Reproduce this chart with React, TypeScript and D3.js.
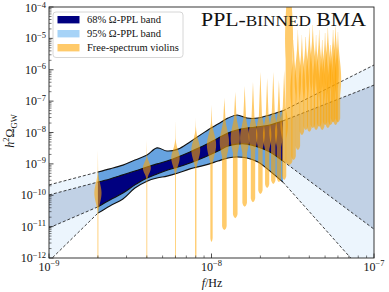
import React from "react";
import * as d3 from "d3";

const WIDTH = 389;
const HEIGHT = 292;
const M = { left: 49, right: 374, top: 7, bottom: 258 };
const FONT = "'Liberation Serif', 'Times New Roman', serif";

// PPL band edges (frequency in Hz, values are log10 h^2 Omega_GW)
const bandFreq = [2.0e-9, 2.37e-9, 2.85e-9, 3.38e-9, 4.01e-9, 4.62e-9, 5.32e-9, 6.22e-9, 7.37e-9, 9.12e-9, 1.096e-8, 1.263e-8, 1.435e-8, 1.654e-8, 1.932e-8, 2.29e-8, 2.75e-8];
const band95Upper = [-9.26, -9.16, -9.04, -8.88, -8.72, -8.49, -8.59, -8.53, -8.30, -7.98, -7.73, -7.54, -7.44, -7.54, -7.54, -7.44, -7.31];
const band68Upper = [-9.58, -9.48, -9.35, -9.23, -9.10, -9.00, -8.91, -8.78, -8.62, -8.40, -8.18, -8.02, -7.92, -7.86, -7.82, -7.76, -7.63];
const band68Lower = [-10.37, -10.15, -9.93, -9.67, -9.45, -9.32, -9.20, -9.10, -8.97, -8.78, -8.59, -8.43, -8.37, -8.37, -8.46, -8.62, -8.91];
const band95Lower = [-10.57, -10.34, -10.12, -9.77, -9.55, -9.45, -9.39, -9.29, -9.16, -9.04, -8.91, -8.81, -8.78, -8.81, -8.94, -9.23, -9.58];

// Power-law extrapolation end values at the plot edges
const extFreq = [1e-9, 1e-7];
const ext95Upper = [-9.67, -5.85];
const ext68Upper = [-9.99, -6.49];
const ext68Lower = [-11.04, -11.08];
const ext95Lower = [-12.1, -12.83];

// Free-spectrum violins
const violinFreq = [2.0e-9, 4.0e-9, 6.0e-9, 8.0e-9, 1.0e-8, 1.2e-8, 1.4e-8, 1.6e-8, 1.8e-8, 2.0e-8, 2.2e-8, 2.4e-8, 2.6e-8, 2.8e-8, 3.0e-8, 3.2e-8, 3.4e-8, 3.6e-8, 3.8e-8, 4.0e-8, 4.2e-8, 4.4e-8, 4.6e-8, 4.8e-8, 5.0e-8, 5.2e-8, 5.4e-8, 5.6e-8, 5.8e-8, 6.0e-8];
const violinPeak = [-9.93, -9.13, -8.81, -8.56, -8.4, -8.3, -8.18, -8.18, -8.11, -8.05, -8.08, -7.98, -8.02, -7.76, -5.0, -6.65, -6.33, -6.49, -6.4, -6.2, -6.1, -6.4, -6.25, -6.5, -6.3, -6.15, -6.6, -6.2, -6.1, -6.3];
const violinHigh = [-8.56, -8.24, -7.6, -7.54, -7.12, -6.9, -6.71, -6.52, -6.39, -6.07, -6.26, -6.07, -6.33, -6.01, -2.5, -5.05, -4.73, -4.89, -4.96, -4.67, -4.57, -4.89, -4.73, -5.05, -4.83, -4.67, -5.21, -4.73, -4.61, -4.8];
const violinLow = [-12.3, -12.3, -12.3, -12.0, -11.49, -11.11, -10.73, -10.37, -10.22, -9.96, -9.77, -9.64, -9.58, -9.51, -9.04, -8.88, -8.56, -8.08, -7.92, -7.98, -7.86, -7.92, -7.82, -7.92, -7.76, -7.86, -7.76, -7.67, -7.76, -7.67];
const violinDensity = [0.9, 1.0, 1.05, 1.1, 1.15, 1.15, 1.15, 1.15, 1.1, 1.1, 1.05, 1.0, 1.0, 0.95, 1.0, 0.8, 0.8, 0.8, 0.8, 0.8, 0.8, 0.8, 0.8, 0.8, 0.8, 0.8, 0.8, 0.8, 0.8, 0.8];
const violinSpread = [0.3, 0.17, 0.25, 0.3, 0.35, 0.4, 0.4, 0.4, 0.4, 0.4, 0.4, 0.4, 0.4, 0.4, 1.2, 0.6, 0.6, 0.6, 0.6, 0.6, 0.6, 0.6, 0.6, 0.6, 0.6, 0.6, 0.6, 0.6, 0.6, 0.6];
const violinTail = [0.12, 0.1, 0.1, 0.15, 0.25, 0.5, 0.5, 0.5, 0.5, 0.5, 0.5, 0.55, 0.55, 0.55, 0.85, 0.7, 0.7, 0.7, 0.7, 0.7, 0.7, 0.7, 0.7, 0.7, 0.7, 0.7, 0.7, 0.7, 0.7, 0.7];

const xTickExps = [-9, -8, -7];
const yTickExps = [-12, -11, -10, -9, -8, -7, -6, -5, -4];

const legendLabels = ["68% \u03A9-PPL band", "95% \u03A9-PPL band", "Free-spectrum violins"];

const C = {
  ext95: "#ecf5fd",
  ext68: "#c1d1e5",
  band95: "#67a3e0",
  band68: "#000080",
  violin: "#ffa500",
  leg95: "#a6d3f7",
  legViolin: "#ffca6a",
};

export default function App() {
  const x = d3.scaleLog().domain([1e-9, 1e-7]).range([M.left, M.right]);
  const y = d3.scaleLinear().domain([-12, -4]).range([M.bottom, M.top]);
  const halfW = d3.scaleLinear().domain([0, 1]).range([0, 4]);

  const n = bandFreq.length;
  const bandArea = (lo: number[], hi: number[]) =>
    d3
      .area<number>()
      .x((f) => x(f))
      .y0((_, i) => y(lo[i]))
      .y1((_, i) => y(hi[i]))
      .curve(d3.curveCatmullRom)(bandFreq) as string;
  const bandLine = (v: number[]) =>
    d3
      .line<number>()
      .x((f) => x(f))
      .y((_, i) => y(v[i]))
      .curve(d3.curveCatmullRom)(bandFreq) as string;

  const segs = (v: number[], ext: number[]) => [
    { f: [extFreq[0], bandFreq[0]], v: [ext[0], v[0]] },
    { f: [bandFreq[n - 1], extFreq[1]], v: [v[n - 1], ext[1]] },
  ];
  const extArea = (lo: number[], extLo: number[], hi: number[], extHi: number[]) => {
    const L = segs(lo, extLo);
    const H = segs(hi, extHi);
    return [0, 1].map((s) =>
      d3
        .area<number>()
        .x((f) => x(f))
        .y0((_, i) => y(L[s].v[i]))
        .y1((_, i) => y(H[s].v[i]))(L[s].f) as string
    );
  };
  const extLines = (v: number[], ext: number[]) =>
    segs(v, ext).map(
      (sg) =>
        d3
          .line<number>()
          .x((f) => x(f))
          .y((_, i) => y(sg.v[i]))(sg.f) as string
    );

  const violinPath = (i: number) => {
    const xc = x(violinFreq[i]);
    const pk = violinPeak[i];
    const hi = violinHigh[i];
    const lo = violinLow[i];
    const s = violinSpread[i];
    const t = violinTail[i];
    const Wd = halfW(violinDensity[i]);
    const N = 120;
    const pts: [number, number][] = [];
    for (let j = 0; j <= N; j++) {
      const L = lo + ((hi - lo) * j) / N;
      const g = Math.exp(-0.5 * ((L - pk) / s) ** 2);
      let w;
      if (L >= pk) {
        w = Math.max(g, (t * (hi - L)) / (hi - pk));
      } else {
        w = Math.max(g, t) * Math.sqrt(Math.min(1, (L - lo) / 0.12));
      }
      pts.push([L, Wd * w]);
    }
    const right = pts.map(([L, w]) => [xc + w, y(L)] as [number, number]);
    const left = pts
      .slice()
      .reverse()
      .map(([L, w]) => [xc - w, y(L)] as [number, number]);
    return d3.line().curve(d3.curveLinear)([...right, ...left]) + "Z";
  };

  const xMinor: number[] = [];
  for (let e = -9; e < -7; e++) for (let k = 2; k <= 9; k++) xMinor.push(k * Math.pow(10, e));
  const yMinor: number[] = [];
  for (let e = -12; e < -4; e++) for (let k = 2; k <= 9; k++) yMinor.push(Math.log10(k) + e);

  const ext95 = extArea(band95Lower, ext95Lower, band95Upper, ext95Upper);
  const ext68 = extArea(band68Lower, ext68Lower, band68Upper, ext68Upper);

  return (
    <div style={{ position: "fixed", left: 0, top: 0 }}>
      <svg width={WIDTH} height={HEIGHT} style={{ display: "block", background: "#fff" }}>
        <defs>
          <clipPath id="plotClip">
            <rect x={M.left} y={M.top} width={M.right - M.left} height={M.bottom - M.top} />
          </clipPath>
        </defs>
        <rect x={0} y={0} width={WIDTH} height={HEIGHT} fill="#fff" />
        <g clipPath="url(#plotClip)">
          {ext95.map((d, i) => (
            <path key={"e95" + i} d={d} fill={C.ext95} />
          ))}
          {ext68.map((d, i) => (
            <path key={"e68" + i} d={d} fill={C.ext68} />
          ))}
          <path d={bandArea(band95Lower, band95Upper)} fill={C.band95} />
          <path d={bandArea(band68Lower, band68Upper)} fill={C.band68} />
          {[band95Upper, band68Upper, band68Lower, band95Lower].map((v, i) => (
            <path key={"bl" + i} d={bandLine(v)} fill="none" stroke="#111" strokeWidth={1.1} />
          ))}
          {[
            [band95Upper, ext95Upper],
            [band68Upper, ext68Upper],
            [band68Lower, ext68Lower],
            [band95Lower, ext95Lower],
          ].map(([v, e], i) =>
            extLines(v, e).map((d, j) => (
              <path key={"dl" + i + j} d={d} fill="none" stroke="#111" strokeWidth={0.8} strokeDasharray="3,2" />
            ))
          )}
          {violinFreq.map((_, i) => (
            <path key={"v" + i} d={violinPath(i)} fill={C.violin} fillOpacity={0.58} />
          ))}
        </g>

        {/* ticks */}
        {xMinor.map((f, i) => (
          <line key={"xm" + i} x1={x(f)} x2={x(f)} y1={M.bottom} y2={M.bottom - 2.5} stroke="#222" strokeWidth={0.6} />
        ))}
        {xTickExps.map((e) => (
          <line key={"xM" + e} x1={x(Math.pow(10, e))} x2={x(Math.pow(10, e))} y1={M.bottom} y2={M.bottom - 4.5} stroke="#222" strokeWidth={0.8} />
        ))}
        {yMinor.map((v, i) => (
          <line key={"ym" + i} x1={M.left} x2={M.left + 2.5} y1={y(v)} y2={y(v)} stroke="#222" strokeWidth={0.6} />
        ))}
        {yTickExps.map((e) => (
          <line key={"yM" + e} x1={M.left} x2={M.left + 4.5} y1={y(e)} y2={y(e)} stroke="#222" strokeWidth={0.8} />
        ))}
        <rect x={M.left} y={M.top} width={M.right - M.left} height={M.bottom - M.top} fill="none" stroke="#222" strokeWidth={0.9} />

        {/* tick labels */}
        {xTickExps.map((e) => (
          <text key={"xl" + e} x={x(Math.pow(10, e))} y={271} textAnchor="middle" fontFamily={FONT} fontSize={12} fill="#111">
            10<tspan dy={-5} fontSize={8.5}>{"\u2212" + Math.abs(e)}</tspan>
          </text>
        ))}
        {yTickExps.map((e) => (
          <text key={"yl" + e} x={46} y={Math.max(y(e) + 4, 12)} textAnchor="end" fontFamily={FONT} fontSize={12} fill="#111">
            10<tspan dy={-4.5} fontSize={8.5}>{"\u2212" + Math.abs(e)}</tspan>
          </text>
        ))}

        {/* axis labels */}
        <text x={212} y={287} textAnchor="middle" fontFamily={FONT} fontSize={12} fill="#111">
          <tspan fontStyle="italic">f</tspan>/Hz
        </text>
        <text transform="translate(14,131) rotate(-90)" textAnchor="middle" fontFamily={FONT} fontSize={12} fill="#111">
          <tspan fontStyle="italic">h</tspan>
          <tspan dy={-5} fontSize={8.5}>2</tspan>
          <tspan dy={5}>{"\u03A9"}</tspan>
          <tspan dy={2.5} fontSize={8.5}>GW</tspan>
        </text>

        {/* title */}
        <text x={201} y={26} fontFamily={FONT} fontSize={19} fill="#111" textLength={165} lengthAdjust="spacingAndGlyphs">
          PPL-<tspan fontSize={15}>BINNED</tspan> BMA
        </text>

        {/* legend */}
        <rect x={53} y={12} width={130} height={45.5} rx={3} fill="#fff" fillOpacity={0.85} stroke="#ccc" strokeWidth={0.8} />
        {legendLabels.map((lab, i) => {
          const cy = 19.7 + i * 14;
          const fill = i === 0 ? C.band68 : i === 1 ? C.leg95 : C.legViolin;
          return (
            <g key={"lg" + i}>
              <rect x={57.5} y={cy - 3.7} width={22} height={7.4} fill={fill} />
              <text x={87} y={cy + 3.6} fontFamily={FONT} fontSize={10.5} fill="#111">
                {lab}
              </text>
            </g>
          );
        })}
      </svg>
    </div>
  );
}
